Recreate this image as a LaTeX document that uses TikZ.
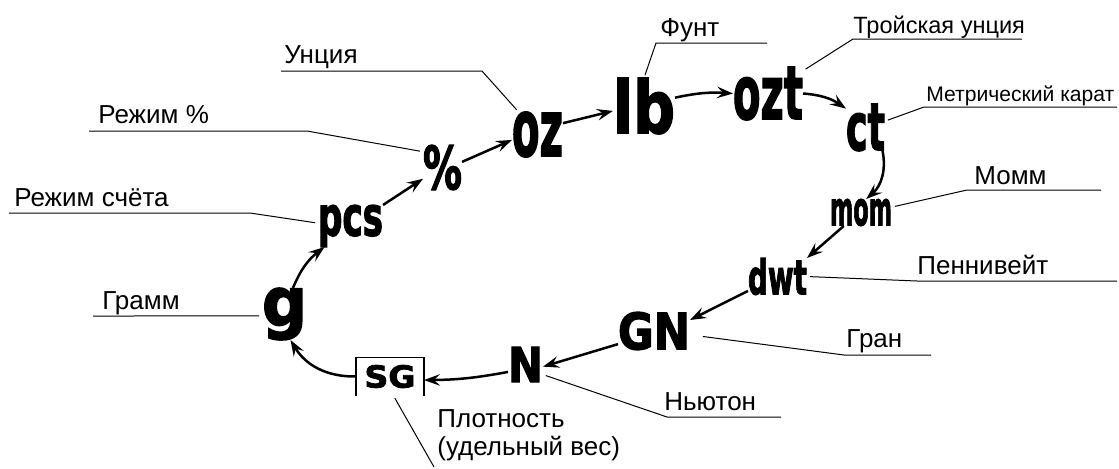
\documentclass[tikz,border=0pt]{standalone}
\usepackage{fontspec}
\setmainfont{Liberation Sans}
\newfontfamily\unitfont[FakeBold=2.5]{DejaVu Sans}
\usepackage{graphicx}
\usetikzlibrary{arrows.meta}

\newlength\pxu
\setlength\pxu{0.2mm}
\newcommand\glyph[3]{\resizebox*{#1\pxu}{#2\pxu}{\unitfont\bfseries #3}}
\newcommand\lblfont{\fontsize{14.8pt}{15.4pt}\selectfont}
\newcommand\topfont{\fontsize{13.4pt}{14pt}\selectfont}
\newcommand\smlfont{\fontsize{12pt}{13pt}\selectfont}

\begin{document}
\begin{tikzpicture}[x=0.2mm,y=-0.2mm,
        unit/.style={inner sep=0pt,outer sep=0pt},
        lbl/.style={anchor=base west,inner sep=0pt,font=\lblfont},
        arr/.style={line width=0.5mm,-{Stealth[length=3.2mm,width=2.3mm,inset=1.2mm]}},
        leader/.style={line width=0.2mm,shorten <=0.6mm}]

        \useasboundingbox (0,0) rectangle (1119,468);

        % units on the ring
        \node [unit] at (284.5,314) (g) {\glyph{45}{52}{g}};
        \node [unit] at (350.5,226) (pcs) {\glyph{65}{42}{pcs}};
        \node [unit] at (442.5,167.5) (pct) {\glyph{39}{45}{\%}};
        \node [unit] at (537.5,134.5) (oz) {\glyph{51}{45}{oz}};
        \node [unit] at (644,106) (lb) {\glyph{62}{56}{lb}};
        \node [unit] at (768,93.5) (ozt) {\glyph{70}{53}{ozt}};
        \node [unit] at (865.5,127.5) (ct) {\glyph{39}{47}{ct}};
        \node [unit] at (861,212.5) (mom) {\glyph{62}{27}{mom}};
        \node [unit] at (777.5,276.5) (dwt) {\glyph{59}{37}{dwt}};
        \node [unit] at (654,331) (gn) {\glyph{72}{38}{GN}};
        \node [unit] at (525.5,364.5) (nw) {\glyph{35}{35}{N}};
        \node [unit, inner xsep=1.7mm, inner ysep=1.5mm] at (390,376.5) (sg) {\glyph{51}{23}{SG}};
        \draw [line width=0.3mm] (sg.south west) -- (sg.north west) -- (sg.north east) -- (sg.south east);

        \draw [arr] (g.72) to[bend left=15] (pcs.219);
        \draw [arr] (pcs.north east) -- (pct.210);
        \draw [arr] (pct.16) -- (oz.192);
        \draw [arr] (oz.24) -- (lb.189);
        \draw [arr] (lb.15) to[bend left=8] (ozt.west);
        \draw [arr] (ozt.east) to[bend left=15] (ct.136);
        \draw [arr] (ct.-54) to[bend left=30] (mom.69);
        \draw [arr] (mom.218) -- (dwt.north east);
        \draw [arr] (dwt.206) -- (gn.17);
        \draw [arr] (gn.200) -- (nw.-7);
        \draw [arr] (nw.203) to[bend left=5] (sg.354);
        \draw [arr] (sg.west) to[bend left=30] (g.-77);

        % labels and leaders
        \node [lbl] at (284,63) (tOz) {Унция};
        \node [lbl] at (98,123) (tPct) {Режим \%};
        \node [lbl] at (14,206) (tPcs) {Режим счёта};
        \node [lbl] at (102,309) (tG) {Грамм};
        \node [lbl] at (660,36) (tLb) {Фунт};
        \node [lbl, font=\topfont] at (853,33) (tOzt) {Тройская унция};
        \node [lbl, font=\smlfont] at (926,101) (tCt) {Метрический карат};
        \node [lbl] at (974,184) (tMom) {Момм};
        \node [lbl] at (917,274) (tDwt) {Пеннивейт};
        \node [lbl] at (846,347) (tGn) {Гран};
        \node [lbl] at (664,410) (tNw) {Ньютон};
        \node [lbl, align=left] at (437,455) (tSg) {Плотность\\(удельный вес)};

        \coordinate (kOz) at (482,71);   \coordinate (eOz) at (281,71);
        \coordinate (kPct) at (307,131); \coordinate (ePct) at (89,131);
        \coordinate (kPcs) at (250,213); \coordinate (ePcs) at (9,213);
        \coordinate (eG) at (93,316);
        \coordinate (kLb) at (656,43);   \coordinate (eLb) at (767,43);
        \coordinate (kOzt) at (853,39);  \coordinate (eOzt) at (1022,39);
        \coordinate (kCt) at (924,107);  \coordinate (eCt) at (1117,107);
        \coordinate (kMom) at (967,190); \coordinate (eMom) at (1101,190);
        \coordinate (kDwt) at (917,281); \coordinate (eDwt) at (1117,281);
        \coordinate (kGn) at (844,355);  \coordinate (eGn) at (931,355);
        \coordinate (kNw) at (667,417);  \coordinate (eNw) at (781,417);
        \coordinate (eSg) at (434,467);

        \draw [leader] (oz.130) -- (kOz) -- (eOz);
        \draw [leader] (pct.141) -- (kPct) -- (ePct);
        \draw [leader] (pcs.175) -- (kPcs) -- (ePcs);
        \draw [leader] (g.185) -- (eG);
        \draw [leader] (lb.north) -- (kLb) -- (eLb);
        \draw [leader] (ozt.33) -- (kOzt) -- (eOzt);
        \draw [leader] (ct.18) -- (kCt) -- (eCt);
        \draw [leader] (mom.10) -- (kMom) -- (eMom);
        \draw [leader] (dwt.east) -- (kDwt) -- (eDwt);
        \draw [leader, shorten <=2.6mm] (gn.-6) -- (kGn) -- (eGn);
        \draw [leader] (nw.-30) -- (kNw) -- (eNw);
        \draw [leader] (sg.-80) -- (eSg);

\end{tikzpicture}
\end{document}
